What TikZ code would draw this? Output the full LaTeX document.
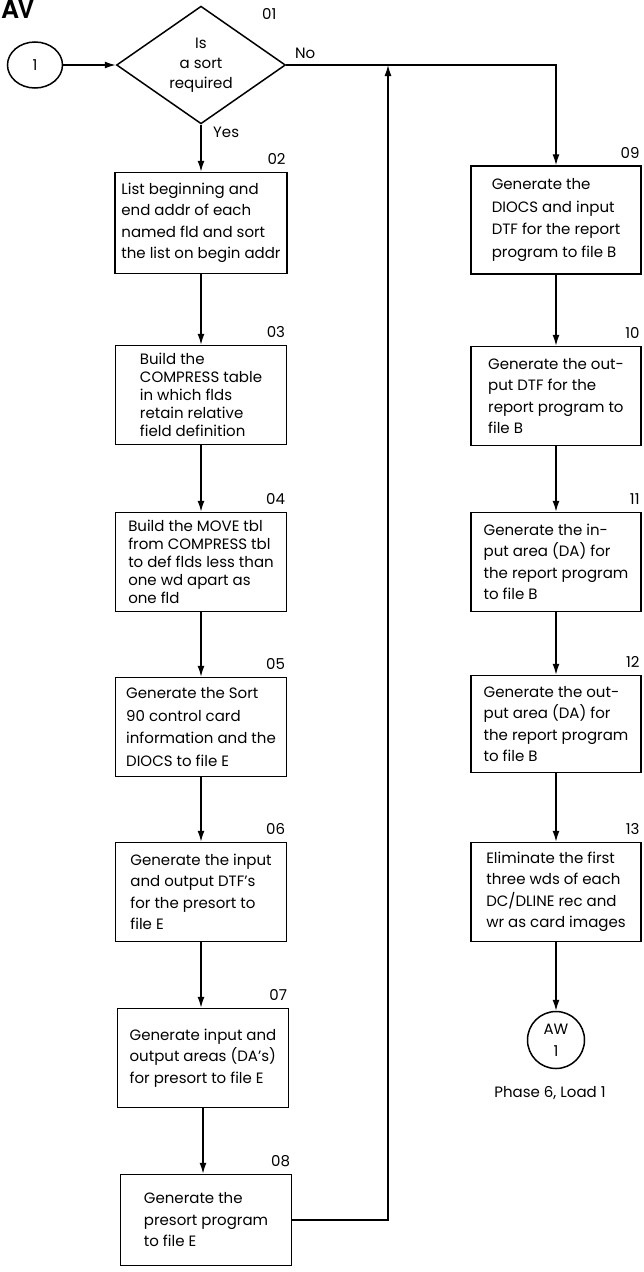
\documentclass[tikz,border=0pt]{standalone}
\usepackage{fontspec}
\setmainfont{Poppins}
\newfontfamily\titlefont{TeX Gyre Heros}
\usetikzlibrary{shapes.geometric,arrows.meta,positioning}
\newcommand\txt[1]{\fontsize{15}{#1}\selectfont}
\begin{document}
\begin{tikzpicture}[x=1pt,y=-1pt,
  every node/.style={font=\txt{21.5}},
  box/.style={draw,line width=1.5pt,align=left,inner sep=0pt,minimum width=171pt,minimum height=99pt},
  tight/.style={font=\txt{18}},
  num/.style={anchor=base east,inner sep=0pt,xshift=-2pt,yshift=7pt},
  conn/.style={draw,line width=1.5pt,ellipse,inner sep=0pt,align=center},
  flow/.style={line width=1.4pt,-{Latex[length=11pt,width=7pt]}}]
\useasboundingbox (0,0) rectangle (643,1272);
\node[anchor=base west,inner sep=0pt,font=\titlefont\bfseries\fontsize{25}{25}\selectfont] (title) at (1,18) {AV};
%
\node[conn,minimum width=55pt,minimum height=46pt] (c1) at (35,65) {1};
\node[diamond,draw,line width=1.5pt,minimum width=169pt,minimum height=98pt,inner sep=0pt,align=center,font=\txt{20}] (d01) at (201,65) {Is\\a sort\\required};
\node[anchor=base west,inner sep=0pt] (n01) at (262,19) {01};
\node[anchor=base west,inner sep=0pt] (no) at (295,58) {No};
\node[anchor=base west,inner sep=0pt] (yes) at (213,137) {Yes};
%
\node[box,minimum width=172pt,minimum height=101pt] (b02) at (201,223) {List beginning and\\end addr of each\\named fld and sort\\the list on begin addr};
\node[box,tight] (b03) at (201,395) {Build the\\COMPRESS table\\in which flds\\retain relative\\field definition};
\node[box,tight] (b04) at (201,562) {Build the MOVE tbl\\from COMPRESS tbl\\to def flds less than\\one wd apart as\\one fld};
\node[box,font=\txt{22.5}] (b05) at (201,727) {Generate the Sort\\90 control card\\information and the\\DIOCS to file E};
\node[box] (b06) at (201,892) {Generate the input\\and output DTF's\\for the presort to\\file E};
\node[box] (b07) at (203,1058) {Generate input and\\output areas (DA's)\\for presort to file E};
\node[box,minimum height=91pt] (b08) at (206,1220) {Generate the\\presort program\\to file E};
\node[num] (n02) at (b02.north east) {02};
\node[num] (n03) at (b03.north east) {03};
\node[num] (n04) at (b04.north east) {04};
\node[num] (n05) at (b05.north east) {05};
\node[num] (n06) at (b06.north east) {06};
\node[num] (n07) at (b07.north east) {07};
\node[num] (n08) at (b08.north east) {08};
%
\node[box,minimum width=170pt,minimum height=108pt,font=\txt{22.5}] (b09) at (556,220) {Generate the\\DIOCS and input\\DTF for the report\\program to file B};
\node[box,minimum width=170pt] (b10) at (556,396) {Generate the out-\\put DTF for the\\report program to\\file B};
\node[box,minimum width=170pt] (b11) at (556,562) {Generate the in-\\put area (DA) for\\the report program\\to file B};
\node[box,minimum width=170pt,minimum height=97pt] (b12) at (556,724) {Generate the out-\\put area (DA) for\\the report program\\to file B};
\node[box,minimum width=170pt] (b13) at (556,892) {Eliminate the first\\three wds of each\\DC/DLINE rec and\\wr as card images};
\node[num] (n09) at (b09.north east) {09};
\node[num] (n10) at (b10.north east) {10};
\node[num] (n11) at (b11.north east) {11};
\node[num] (n12) at (b12.north east) {12};
\node[num] (n13) at (b13.north east) {13};
%
\node[conn,minimum size=57pt,font=\txt{22}] (aw) at (556,1040) {AW\\1};
\node[anchor=base,inner sep=0pt] (phase) at (550,1097) {Phase 6, Load 1};
%
\coordinate (turn) at (b09.north |- d01.east);
\coordinate (up) at (388,65);
\draw[flow] (c1.east) -- (d01.west);
\draw[flow] (d01.south) -- (d01.south |- b02.north);
\draw[flow] (b02.south) -- (b02.south |- b03.north);
\draw[flow] (b03.south) -- (b03.south |- b04.north);
\draw[flow] (b04.south) -- (b04.south |- b05.north);
\draw[flow] (b05.south) -- (b05.south |- b06.north);
\draw[flow] (b06.south) -- (b06.south |- b07.north);
\draw[flow] (b07.south) -- (b07.south |- b08.north);
\draw[flow] (b08.east) -| (up);
\draw[flow] (d01.east) -- (turn) -- (b09.north);
\draw[flow] (b09.south) -- (b10.north);
\draw[flow] (b10.south) -- (b11.north);
\draw[flow] (b11.south) -- (b12.north);
\draw[flow] (b12.south) -- (b13.north);
\draw[flow] (b13.south) -- (aw.north);
\end{tikzpicture}
\end{document}
